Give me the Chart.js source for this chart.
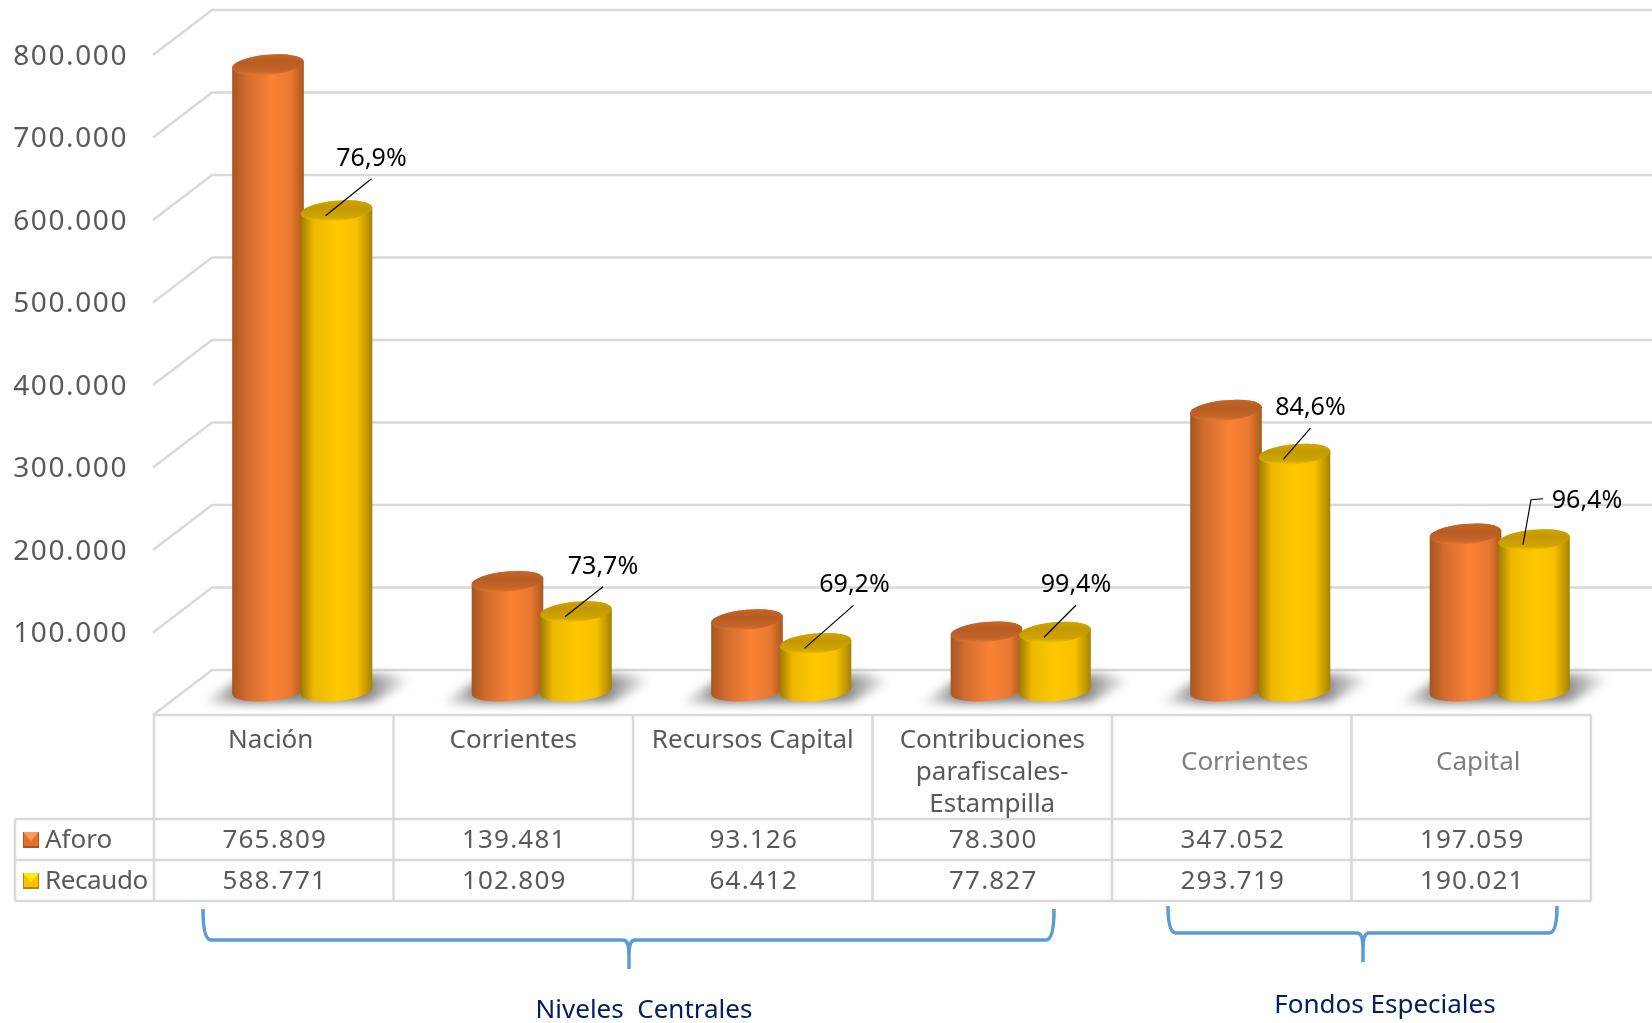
<!DOCTYPE html>
<html>
<head>
<meta charset="utf-8">
<title>Aforo y Recaudo</title>
<script src="https://cdn.jsdelivr.net/npm/chart.js@4"></script>
<style>
  html, body { margin: 0; padding: 0; background: #fff; }
  canvas { display: block; }
</style>
</head>
<body>
<canvas id="chart" width="1652" height="1023"></canvas>
<script>
const categories = ['Nación', 'Corrientes', 'Recursos Capital', ['Contribuciones', 'parafiscales-', 'Estampilla'], 'Corrientes', 'Capital'];
const aforo = [765809, 139481, 93126, 78300, 347052, 197059];
const recaudo = [588771, 102809, 64412, 77827, 293719, 190021];
const porcentajes = ['76,9%', '73,7%', '69,2%', '99,4%', '84,6%', '96,4%'];
const grupos = ['Niveles  Centrales', 'Fondos Especiales'];

const FONT = '"Noto Sans"';
const GRID = '#d9d9d9';
const TEXT = '#595959';
const DEPTH_X = 58, DEPTH_Y = 45;
const BAR_SHIFT_X = 28.5, BAR_SHIFT_Y = 22.5;
const TOP_SHIFT_Y = 18.5, BASE_SHIFT_Y = 24;
const TILT = -0.09, RY = 10;

// Colores de los cilindros
const shades = [
  {
    stops: ['#a5561f', '#d16c2e', '#f98235', '#ea7830', '#a8591f'],
    pos: [0, 0.2, 0.55, 0.82, 1],
    top: ['#cc6a2a', '#b85c22', '#c4652a', '#ee7e30'],
    swatch: ['#fa9a5c', '#e0722c', '#a85420']
  },
  {
    stops: ['#9c7a00', '#ecb800', '#ffc800', '#f7c100', '#a58200'],
    pos: [0, 0.18, 0.5, 0.78, 1],
    top: ['#d8a800', '#c39900', '#d0a400', '#fcce00'],
    swatch: ['#ffec00', '#ffc000', '#b08a00']
  }
];

// Desplazamientos de las etiquetas respecto a la cara superior de la barra Recaudo
const leaders = [[46, -37], [38, -30], [49, -43], [32, -32], [27, -31], [8, -45]];

function fmt(v) {
  return String(v).replace(/\B(?=(\d{3})+$)/g, '.');
}

function cylinder(ctx, cx, topY, baseY, w, shade) {
  const left = cx - w / 2;
  const g = ctx.createLinearGradient(left, 0, left + w, 0);
  shade.pos.forEach((p, i) => g.addColorStop(p, shade.stops[i]));
  ctx.beginPath();
  ctx.ellipse(cx, baseY, w / 2, RY, TILT, 0, Math.PI);
  ctx.ellipse(cx, topY, w / 2, RY, TILT, Math.PI, 0);
  ctx.closePath();
  ctx.fillStyle = g;
  ctx.fill();

  const t = ctx.createLinearGradient(0, topY - RY - 3, 0, topY + RY + 3);
  [0, 0.4, 0.75, 0.95].forEach((p, i) => t.addColorStop(p, shade.top[i]));
  ctx.beginPath();
  ctx.ellipse(cx, topY, w / 2, RY, TILT, 0, Math.PI * 2);
  ctx.fillStyle = t;
  ctx.fill();
}

function swatch(ctx, x, y, s, colors) {
  ctx.fillStyle = colors[1];
  ctx.fillRect(x, y, s, s);
  ctx.fillStyle = colors[0];
  ctx.beginPath();
  ctx.moveTo(x, y);
  ctx.lineTo(x + s, y);
  ctx.lineTo(x + s / 2, y + s / 2 + 1);
  ctx.closePath();
  ctx.fill();
  ctx.fillStyle = colors[2];
  ctx.fillRect(x, y + s - 2, s, 2);
  ctx.fillRect(x + s - 1, y, 1, s);
  ctx.fillRect(x, y, 1, s);
}

const wallsPlugin = {
  id: 'walls',
  beforeDraw(chart) {
    // Números más espaciados, como en el original
    chart.ctx.letterSpacing = '1.6px';
  },
  beforeDatasetsDraw(chart) {
    const { ctx, scales: { x, y } } = chart;
    ctx.save();
    ctx.strokeStyle = GRID;
    ctx.lineWidth = 2.5;
    y.ticks.forEach(t => {
      const py = y.getPixelForValue(t.value);
      ctx.beginPath();
      ctx.moveTo(x.left - 1, py);
      ctx.lineTo(x.left + DEPTH_X, py - DEPTH_Y);
      ctx.lineTo(chart.width, py - DEPTH_Y);
      ctx.stroke();
    });
    // Sombras sobre el piso
    const y0 = y.getPixelForValue(0);
    ctx.filter = 'blur(5px)';
    categories.forEach((c, i) => {
      const cx = x.getPixelForValue(i) + BAR_SHIFT_X;
      const g = ctx.createLinearGradient(cx - 102, 0, cx + 110, 0);
      g.addColorStop(0, 'rgba(125,125,125,0)');
      g.addColorStop(0.2, 'rgba(125,125,125,0.95)');
      g.addColorStop(0.78, 'rgba(125,125,125,0.95)');
      g.addColorStop(1, 'rgba(125,125,125,0)');
      ctx.fillStyle = g;
      ctx.beginPath();
      ctx.moveTo(cx - 102, y0 - 11);
      ctx.lineTo(cx - 60, y0 - 38);
      ctx.lineTo(cx + 85, y0 - 41);
      ctx.lineTo(cx + 112, y0 - 35);
      ctx.lineTo(cx + 70, y0 - 13);
      ctx.closePath();
      ctx.fill();
    });
    ctx.restore();

    // Cilindros desde los elementos de Chart.js
    chart.data.datasets.forEach((ds, d) => {
      const bars = chart.getDatasetMeta(d).data;
      bars.forEach(b => {
        cylinder(ctx, b.x + BAR_SHIFT_X, b.y - TOP_SHIFT_Y, b.base - BASE_SHIFT_Y, b.width, shades[d]);
      });
    });
    return false;
  }
};

const tablePlugin = {
  id: 'table',
  afterDraw(chart) {
    const { ctx, scales: { x, y } } = chart;
    const top = y.getPixelForValue(0);
    const row1 = top + 104, row2 = top + 145, bottom = top + 186;
    const colW = (x.right - x.left) / categories.length;
    ctx.save();
    ctx.letterSpacing = '0px';
    ctx.strokeStyle = GRID;
    ctx.lineWidth = 2.5;
    ctx.beginPath();
    ctx.moveTo(x.left, top); ctx.lineTo(x.right, top);
    ctx.moveTo(15, row1); ctx.lineTo(x.right, row1);
    ctx.moveTo(15, row2); ctx.lineTo(x.right, row2);
    ctx.moveTo(15, bottom); ctx.lineTo(x.right, bottom);
    ctx.moveTo(15, row1); ctx.lineTo(15, bottom);
    for (let i = 0; i <= categories.length; i++) {
      ctx.moveTo(x.left + i * colW, top);
      ctx.lineTo(x.left + i * colW, bottom);
    }
    ctx.stroke();

    ctx.textAlign = 'center';
    ctx.textBaseline = 'middle';
    ctx.font = '26px ' + FONT;
    categories.forEach((c, i) => {
      const cx = x.getPixelForValue(i);
      if (i < 4) {
        ctx.fillStyle = TEXT;
        const lines = Array.isArray(c) ? c : [c];
        lines.forEach((l, n) => ctx.fillText(l, cx - (i === 0 ? 3 : 0), top + 26 + n * 32));
      } else {
        ctx.fillStyle = '#7f7f7f';
        ctx.fillText(c, cx + (i === 4 ? 13 : 7), top + 48);
      }
      ctx.fillStyle = TEXT;
      ctx.letterSpacing = '1.2px';
      ctx.fillText(fmt(aforo[i]), cx + 1, top + 126);
      ctx.fillText(fmt(recaudo[i]), cx + 1, top + 167);
      ctx.letterSpacing = '0px';
    });

    // Leyenda de la tabla
    ctx.textAlign = 'left';
    chart.data.datasets.forEach((ds, d) => {
      const cy = d === 0 ? top + 125 : top + 166;
      swatch(ctx, 23, cy - 8, 16, shades[d].swatch);
      ctx.fillStyle = TEXT;
      ctx.letterSpacing = d === 0 ? '0px' : '-0.4px';
      ctx.fillText(ds.label, 45, cy + 1);
    });
    ctx.letterSpacing = '0px';

    // Porcentajes con línea guía
    const yellow = chart.getDatasetMeta(1).data;
    ctx.strokeStyle = '#000';
    ctx.lineWidth = 1.2;
    ctx.fillStyle = '#000';
    ctx.font = '25px ' + FONT;
    ctx.textAlign = 'center';
    porcentajes.forEach((p, i) => {
      const bx = yellow[i].x + BAR_SHIFT_X - 11;
      const by = yellow[i].y - BAR_SHIFT_Y + 9;
      const sx = bx + leaders[i][0], sy = by + leaders[i][1];
      ctx.beginPath();
      ctx.moveTo(bx, by);
      ctx.lineTo(sx, sy);
      if (i === 5) {
        ctx.lineTo(sx + 12, sy - 1);
        ctx.stroke();
        ctx.fillText(p, sx + 56, sy + 1);
      } else {
        ctx.stroke();
        ctx.fillText(p, sx + (i === 2 ? 1 : 0), sy - 20);
      }
    });

    // Llaves inferiores
    ctx.strokeStyle = '#5b9bd5';
    ctx.lineWidth = 3.5;
    brace(ctx, 203, 1054, 909, 940, 629, 969);
    brace(ctx, 1168, 1557, 906, 933, 1363, 962);

    ctx.fillStyle = '#002060';
    ctx.font = '26px ' + FONT;
    ctx.textAlign = 'center';
    ctx.fillText(grupos[0], 644, 1011);
    ctx.fillText(grupos[1], 1385, 1006);
    ctx.restore();
  }
};

function brace(ctx, x1, x2, y1, y2, cx, tip) {
  ctx.beginPath();
  ctx.moveTo(x1, y1);
  ctx.quadraticCurveTo(x1, y2, x1 + 8, y2);
  ctx.lineTo(cx - 6, y2);
  ctx.quadraticCurveTo(cx, y2, cx, tip - 14);
  ctx.lineTo(cx, tip);
  ctx.moveTo(cx, tip - 14);
  ctx.quadraticCurveTo(cx, y2, cx + 6, y2);
  ctx.lineTo(x2 - 8, y2);
  ctx.quadraticCurveTo(x2, y2, x2, y1);
  ctx.stroke();
}

new Chart(document.getElementById('chart'), {
  type: 'bar',
  data: {
    labels: categories,
    datasets: [
      { label: 'Aforo', data: aforo, backgroundColor: '#f98235' },
      { label: 'Recaudo', data: recaudo, backgroundColor: '#ffc800' }
    ]
  },
  options: {
    responsive: false,
    animation: false,
    layout: { padding: { top: 55, right: 61, left: 0, bottom: 0 } },
    plugins: { legend: { display: false }, tooltip: { enabled: false } },
    datasets: { bar: { categoryPercentage: 0.572, barPercentage: 1.05 } },
    scales: {
      x: {
        grid: { display: false },
        border: { display: false },
        ticks: { display: false },
        afterFit: s => { s.height = 308; }
      },
      y: {
        min: 0,
        max: 800000,
        grid: { display: false, drawTicks: false },
        border: { display: false },
        ticks: {
          stepSize: 100000,
          padding: 26,
          labelOffset: 2,
          color: TEXT,
          font: { family: 'Noto Sans', size: 28 },
          callback: v => (v === 0 ? '' : fmt(v))
        },
        afterFit: s => { s.width = 154; }
      }
    }
  },
  plugins: [wallsPlugin, tablePlugin]
});
</script>
</body>
</html>
